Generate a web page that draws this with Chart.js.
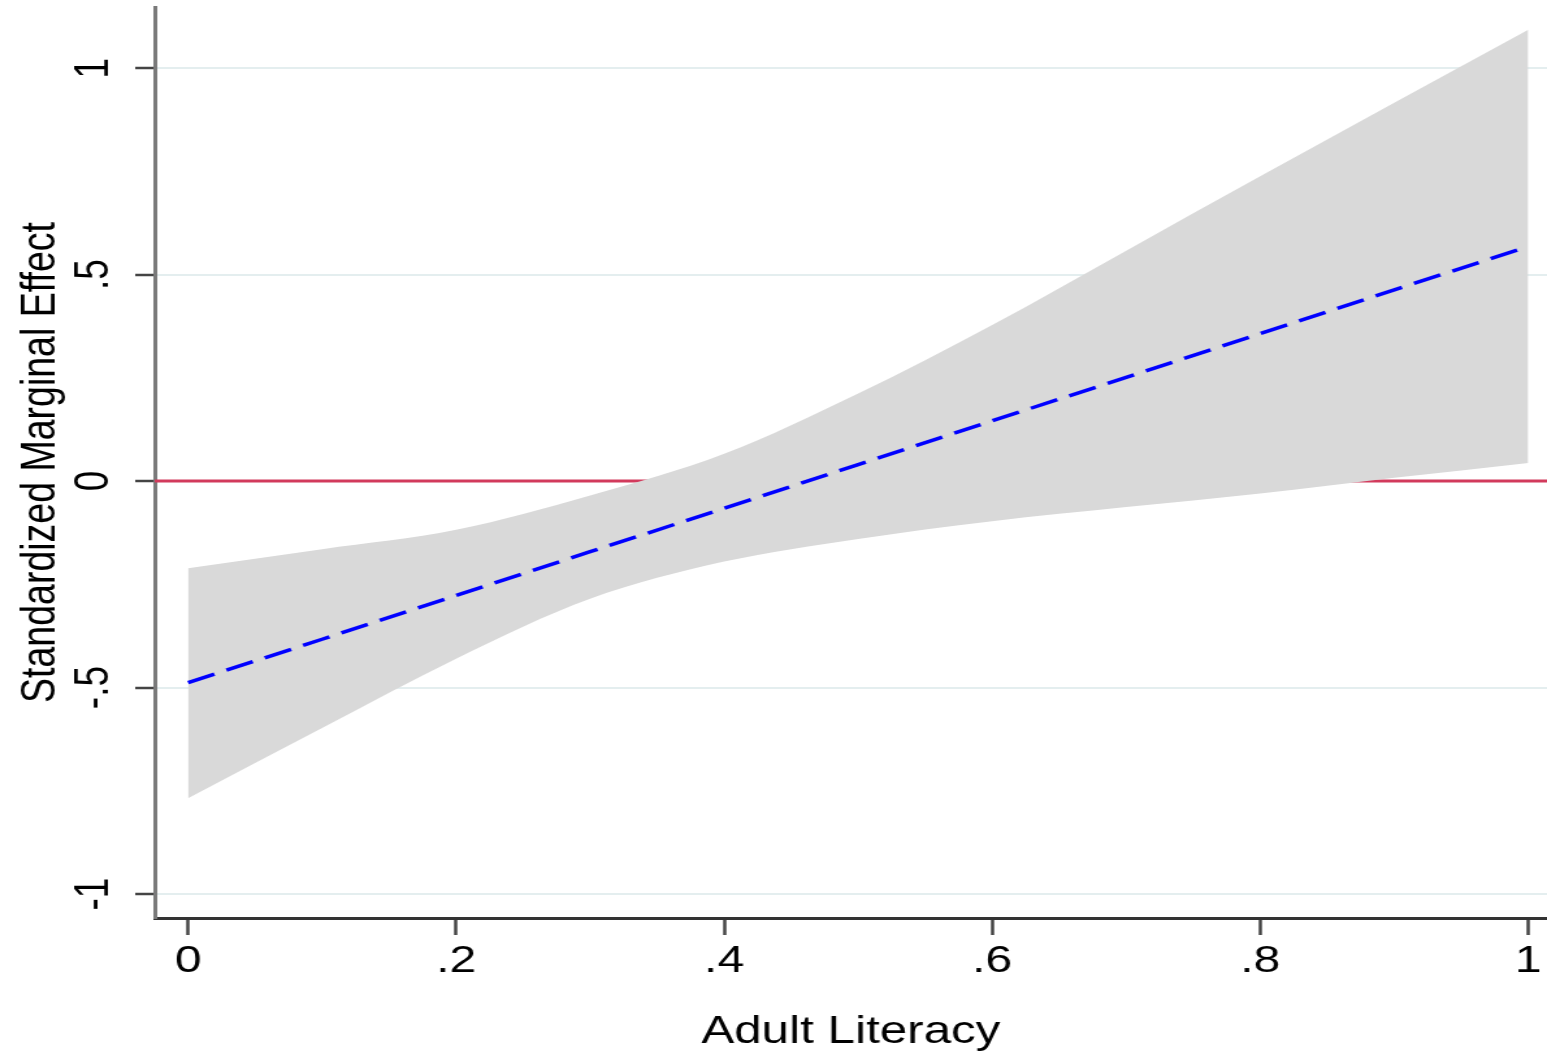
<!DOCTYPE html>
<html>
<head>
<meta charset="utf-8">
<script src="https://cdn.jsdelivr.net/npm/chart.js@4"></script>
<style>
  html, body { margin: 0; padding: 0; background: #fff; }
</style>
</head>
<body>
<!-- the source graph is stretched sideways, so the canvas is drawn narrow and shown wide -->
<canvas id="marginalChart" width="1190" height="1055" style="display:block;width:1547px;height:1055px"></canvas>
<script>
// adult literacy values the effect was evaluated at
const literacy = [0, 0.1, 0.2, 0.3, 0.4, 0.5, 0.6, 0.7, 0.8, 0.9, 1];
// standardized marginal effect and its confidence band
const effect = [-0.488, -0.383, -0.277, -0.171, -0.066, 0.040, 0.146, 0.251, 0.357, 0.463, 0.568];
const upperCI = [-0.211, -0.165, -0.118, -0.035, 0.066, 0.212, 0.378, 0.558, 0.738, 0.916, 1.093];
const lowerCI = [-0.768, -0.598, -0.430, -0.285, -0.195, -0.140, -0.097, -0.063, -0.030, 0.008, 0.044];

// axis ticks and their stata-style labels
const xTicks = [0, 0.2, 0.4, 0.6, 0.8, 1];
const xTickLabels = ['0', '.2', '.4', '.6', '.8', '1'];
const yTicks = [-1, -0.5, 0, 0.5, 1];
const yTickLabels = ['-1', '-.5', '0', '.5', '1'];
const xRange = [-0.0249, 1.014];
const yRange = [-1.058, 1.148];
const zeroLine = [0, 0];

const toPoints = (xs, ys) => xs.map((x, i) => ({ x: x, y: ys[i] }));

const ctx = document.getElementById('marginalChart').getContext('2d');

new Chart(ctx, {
    type: 'line',
    data: {
        datasets: [
            {
                // dashed estimate, drawn on top
                data: toPoints(literacy, effect),
                borderColor: '#0000ff',
                borderWidth: 3.5,
                borderDash: [22, 10],
                pointRadius: 0,
                fill: false
            },
            {
                data: toPoints(literacy, upperCI),
                borderWidth: 0,
                borderColor: 'rgba(0,0,0,0)',
                backgroundColor: '#d9d9d9',
                pointRadius: 0,
                cubicInterpolationMode: 'monotone',
                fill: '+1'
            },
            {
                data: toPoints(literacy, lowerCI),
                borderWidth: 0,
                borderColor: 'rgba(0,0,0,0)',
                pointRadius: 0,
                cubicInterpolationMode: 'monotone',
                fill: false
            },
            {
                // reference line at zero sits under the band
                data: toPoints(xRange, zeroLine),
                borderColor: '#d23a5c',
                borderWidth: 3,
                pointRadius: 0,
                fill: false
            }
        ]
    },
    options: {
        responsive: false,
        devicePixelRatio: 1,
        animation: false,
        layout: {
            padding: { top: 7, left: 0, right: 0, bottom: 0 }
        },
        plugins: {
            legend: { display: false },
            tooltip: { enabled: false }
        },
        scales: {
            x: {
                type: 'linear',
                min: xRange[0],
                max: xRange[1],
                afterBuildTicks: function (scale) {
                    scale.ticks = xTicks.map(v => ({ value: v }));
                },
                afterFit: function (scale) {
                    scale.height = 137;
                    scale.paddingLeft = 0;
                    scale.paddingRight = 0;
                },
                grid: {
                    drawOnChartArea: false,
                    drawTicks: true,
                    tickLength: 17,
                    tickColor: '#444',
                    tickWidth: 2.5
                },
                border: { display: true, color: '#333', width: 3 },
                ticks: {
                    padding: 5,
                    color: '#000',
                    maxRotation: 0,
                    autoSkip: false,
                    font: { family: 'Liberation Sans, Arial, sans-serif', size: 37 },
                    callback: function (value, index) {
                        return xTickLabels[index];
                    }
                },
                title: {
                    display: true,
                    text: 'Adult Literacy',
                    color: '#000',
                    padding: { top: 1, bottom: 0 },
                    font: { family: 'Liberation Sans, Arial, sans-serif', size: 38 }
                }
            },
            y: {
                type: 'linear',
                min: yRange[0],
                max: yRange[1],
                afterBuildTicks: function (scale) {
                    scale.ticks = yTicks.map(v => ({ value: v }));
                },
                afterFit: function (scale) {
                    scale.width = 119;
                    scale.paddingTop = 0;
                    scale.paddingBottom = 0;
                },
                grid: {
                    color: '#e4eeef',
                    lineWidth: 2,
                    drawTicks: true,
                    tickLength: 15,
                    tickColor: '#444',
                    tickWidth: 2.5
                },
                border: { display: true, color: '#7a7a7a', width: 3 },
                ticks: {
                    padding: 10,
                    color: '#000',
                    minRotation: 90,
                    maxRotation: 90,
                    crossAlign: 'center',
                    autoSkip: false,
                    font: { family: 'Liberation Sans, Arial, sans-serif', size: 37 },
                    callback: function (value, index) {
                        return yTickLabels[index];
                    }
                },
                title: {
                    display: true,
                    text: 'Standardized Marginal Effect',
                    color: '#000',
                    padding: { top: 9, bottom: 0 },
                    font: { family: 'Liberation Sans, Arial, sans-serif', size: 37.5 }
                }
            }
        }
    }
});
</script>
</body>
</html>
